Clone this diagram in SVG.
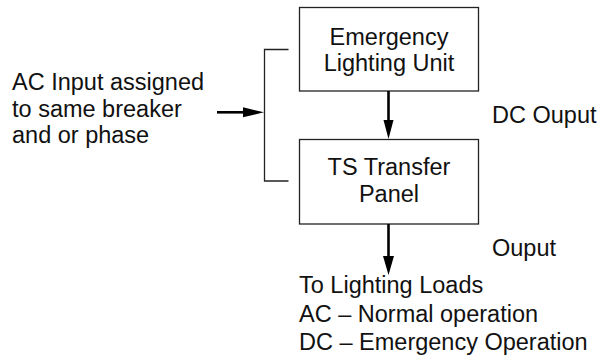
<svg xmlns="http://www.w3.org/2000/svg" width="602" height="356" viewBox="0 0 602 356">
<style>
text{font-family:"Liberation Sans",Arial,Helvetica,sans-serif;font-size:23.5px;fill:#111}
.box{fill:#fff;stroke:#222;stroke-width:1.3}
.thin{fill:none;stroke:#222;stroke-width:1.3}
.shaft{fill:none;stroke:#000;stroke-width:2.6}
.head{fill:#000}
.c{text-anchor:middle}
</style>
<rect width="602" height="356" fill="#fff"/>
<g id="input-label">
<text x="12" y="90">AC Input assigned</text>
<text x="12" y="117">to same breaker</text>
<text x="12" y="143">and or phase</text>
</g>
<g id="emergency-lighting-unit">
<rect class="box" x="299.5" y="7.5" width="179" height="83.5"/>
<text class="c" x="389" y="45">Emergency</text>
<text class="c" x="389" y="70.5">Lighting Unit</text>
</g>
<g id="ts-transfer-panel">
<rect class="box" x="299.5" y="139.5" width="179" height="84.5"/>
<text class="c" x="389" y="175">TS Transfer</text>
<text class="c" x="389" y="202">Panel</text>
</g>
<g id="labels">
<text x="492" y="123">DC Ouput</text>
<text x="492" y="256">Ouput</text>
<text x="299" y="293">To Lighting Loads</text>
<text x="299" y="321.5">AC – Normal operation</text>
<text x="299" y="350">DC – Emergency Operation</text>
</g>
<g id="connectors">
<polyline class="thin" points="288.5,49.5 264.5,49.5 264.5,181 288.5,181"/>
<line class="shaft" x1="217" y1="112.3" x2="246" y2="112.3"/>
<polygon class="head" points="264,112.3 243,107.3 243,117.3"/>
<line class="shaft" x1="388.5" y1="91" x2="388.5" y2="122"/>
<polygon class="head" points="388.5,139 383.5,120 393.5,120"/>
<line class="shaft" x1="388.5" y1="224" x2="388.5" y2="259"/>
<polygon class="head" points="388.5,275 383,256 394,256"/>
</g>
</svg>
